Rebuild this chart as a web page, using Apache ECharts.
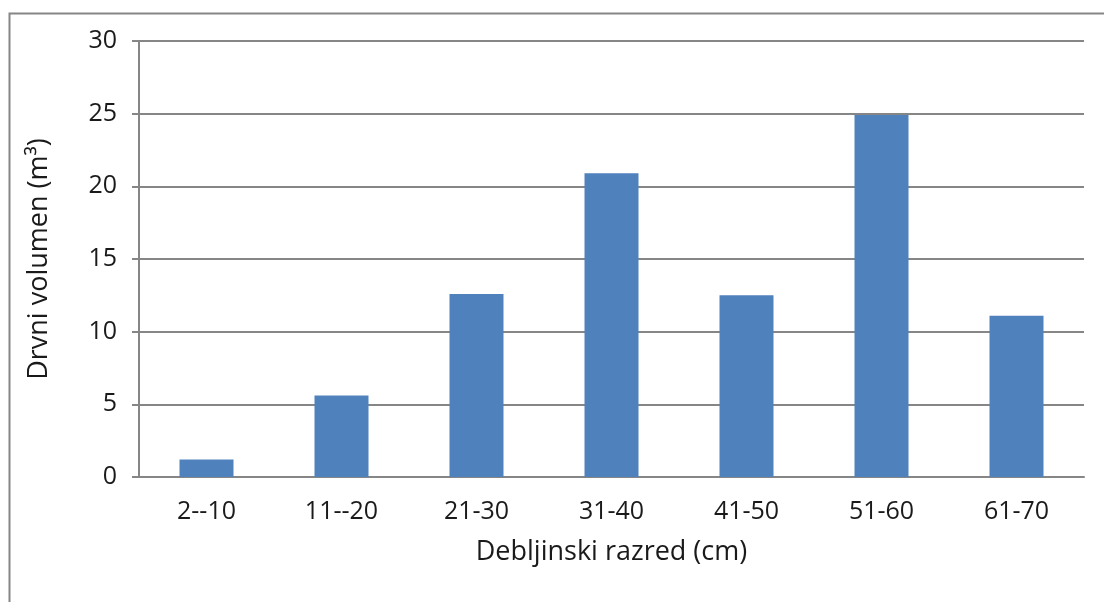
<!DOCTYPE html>
<html>
<head>
<meta charset="utf-8">
<script src="https://cdn.jsdelivr.net/npm/echarts@6/dist/echarts.min.js"></script>
<style>
  html, body { margin: 0; padding: 0; background: #fff; }
  #main { width: 1104px; height: 602px; }
</style>
</head>
<body>
<div id="main"></div>
<script>
// data
var categories = ['2--10', '11--20', '21-30', '31-40', '41-50', '51-60', '61-70'];
var volumes = [1.2, 5.6, 12.6, 20.9, 12.5, 24.9, 11.1];
var yTicks = [0, 5, 10, 15, 20, 25, 30];

var chart = echarts.init(document.getElementById('main'));

var font = '"Open Sans", "Liberation Sans", sans-serif';
var gray = '#868686';

chart.setOption({
	animation : false,
	textStyle : {
		fontFamily : font
	},
	graphic : [{
			// outer chart frame, cut off on the right and bottom
			type : 'rect',
			left : 7,
			top : 11,
			shape : { width : 1110, height : 610 },
			style : { fill : 'none', stroke : gray, lineWidth : 2 }
		}
	],
	grid : {
		left : 139,
		right : 20,
		top : 41,
		bottom : 125
	},
	xAxis : {
		type : 'category',
		data : categories,
		name : 'Debljinski razred (cm)',
		nameLocation : 'middle',
		nameGap : 62,
		nameTextStyle : {
			fontSize : 27,
			color : '#1a1a1a',
			fontFamily : font
		},
		axisLine : {
			lineStyle : { color : gray, width : 2 }
		},
		axisTick : {
			length : 6,
			lineStyle : { color : gray, width : 2 }
		},
		axisLabel : {
			margin : 22,
			fontSize : 25,
			color : '#1a1a1a',
			fontFamily : font
		}
	},
	yAxis : {
		type : 'value',
		min : yTicks[0],
		max : yTicks[yTicks.length - 1],
		interval : yTicks[1] - yTicks[0],
		name : 'Drvni volumen (m³)',
		nameLocation : 'middle',
		nameGap : 86,
		nameTextStyle : {
			fontSize : 27,
			color : '#1a1a1a',
			fontFamily : font
		},
		axisLine : {
			show : true,
			lineStyle : { color : gray, width : 2 }
		},
		axisTick : {
			show : true,
			length : 7,
			lineStyle : { color : gray, width : 2 }
		},
		axisLabel : {
			margin : 22,
			fontSize : 25,
			color : '#1a1a1a',
			fontFamily : font
		},
		splitLine : {
			lineStyle : { color : gray, width : 2 }
		}
	},
	series : [{
			type : 'bar',
			data : volumes,
			barWidth : '40%',
			itemStyle : {
				color : '#4F81BD'
			}
		}
	]
});
</script>
</body>
</html>
